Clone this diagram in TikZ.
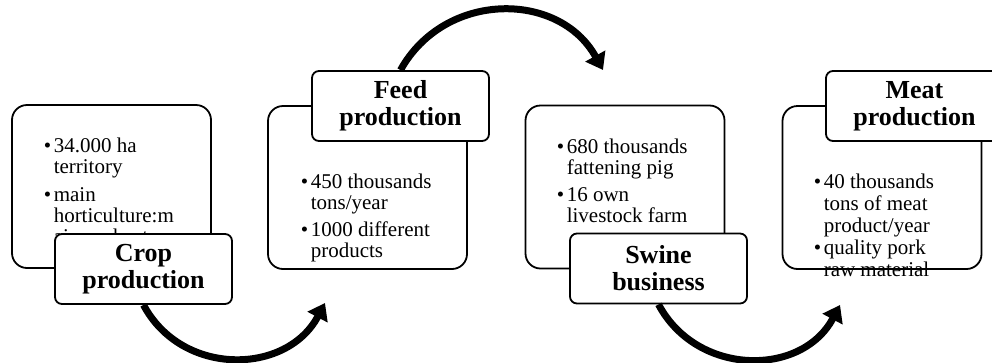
\documentclass[tikz,border=0pt]{standalone}
\usepackage{fontspec}
\setmainfont{Liberation Serif}
\usepackage{tikz}
\usetikzlibrary{arrows.meta}

\begin{document}
\begin{tikzpicture} [x = 1pt, y = 1pt,
	panel/.style = {draw, line width=1.8pt, rounded corners=15pt, minimum width=199pt, minimum height=163pt},
	headbox/.style = {draw, fill=white, line width=1.8pt, rounded corners=7pt, minimum width=177pt, minimum height=70pt, align=center, font=\fontsize{26}{27}\selectfont\bfseries},
	items/.style = {anchor=north west, inner sep=0pt, font=\fontsize{21}{21}\selectfont},
	flow/.style = {line width=7pt, -{Triangle[length=16pt, width=22pt]}, looseness=1.15}]
	\useasboundingbox (0, 0) rectangle (992, -362);
		% big boxes
		\node[panel] (cropbox) at (111.5, -186.5) {};
		\node[panel] (feedbox) at (367.5, -187.5) {};
		\node[panel] (swinebox) at (625, -187) {};
		\node[panel] (meatbox) at (882, -187.5) {};
			\node[items] (croplist) at (43.7, -137.3) {\begin{tabular}{@{}l@{\hspace{2.5pt}}l@{}}
				\textbullet & 34.000 ha\\ & territory\\[7pt]
				\textbullet & main\\ & horticulture:m\\ & aize, wheat
			\end{tabular}};
			\node[items] (feedlist) at (300.7, -173.3) {\begin{tabular}{@{}l@{\hspace{2.5pt}}l@{}}
				\textbullet & 450 thousands\\ & tons/year\\[6pt]
				\textbullet & 1000 different\\ & products
			\end{tabular}};
			\node[items] (swinelist) at (556.7, -138.3) {\begin{tabular}{@{}l@{\hspace{2.5pt}}l@{}}
				\textbullet & 680 thousands\\ & fattening pig\\[6pt]
				\textbullet & 16 own\\ & livestock farm
			\end{tabular}};
			\node[items] (meatlist) at (813.7, -173.3) {\begin{tabular}{@{}l@{\hspace{2.5pt}}l@{}}
				\textbullet & 40 thousands\\[1pt] & tons of meat\\[1pt] & product/year\\[1pt]
				\textbullet & quality pork\\[1pt] & raw material
			\end{tabular}};
		% titles
		\node[headbox] (croptitle) at (143.5, -269) {Crop\\production};
		\node[headbox] (feedtitle) at (400.5, -106) {Feed\\production};
		\node[headbox] (swinetitle) at (658.5, -268.5) {Swine\\business};
		\node[headbox] (meattitle) at (914.5, -106) {Meat\\production};
	% arrows
	\coordinate (tipA) at (325, -303);
	\coordinate (tipB) at (603, -70);
	\coordinate (tipC) at (840, -305);
		\draw[flow] (croptitle.south) to[out=-62, in=-118] (tipA);
		\draw[flow] (feedtitle.north) to[out=61, in=119] (tipB);
		\draw[flow] (swinetitle.south) to[out=-62, in=-118] (tipC);
\end{tikzpicture}
\end{document}
